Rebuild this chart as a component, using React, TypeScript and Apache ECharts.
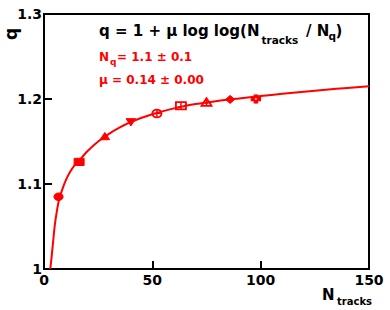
import { useEffect, useRef } from "react";
import * as echarts from "echarts";

// Fitted curve (N_tracks, q)
const curveN = [2.9, 3.5, 4.2, 5, 6, 7, 8.5, 10, 12, 14, 16, 20, 25, 30, 35, 40, 50, 60, 70, 80, 90, 100, 110, 120, 130, 140, 150];
const curveQ = [1.0, 1.014, 1.032, 1.052, 1.069, 1.082, 1.094, 1.104, 1.114, 1.1215, 1.127, 1.1385, 1.15, 1.159, 1.1665, 1.173, 1.182, 1.189, 1.194, 1.1977, 1.2007, 1.2035, 1.2061, 1.2085, 1.2108, 1.213, 1.215];

// Measured points
const pointN = [6.7, 16.2, 28.1, 40.1, 52.1, 63.2, 75.0, 85.9, 97.8];
const pointQ = [1.085, 1.126, 1.156, 1.173, 1.183, 1.192, 1.196, 1.1995, 1.2];
const pointErr = [0.002, 0.002, 0.002, 0.003, 0.004, 0.004, 0.004, 0.004, 0.005];
const markerKinds = [
  "filledCircle",
  "filledSquare",
  "filledTriUp",
  "filledTriDown",
  "openCircle",
  "openSquare",
  "openTriUp",
  "filledDiamond",
  "openCross",
];

const xMin = 0;
const xMax = 150;
const xStep = 50;
const yMin = 1.0;
const yMax = 1.3;
const yStep = 0.1;

const RED = "#ff0000";
const FONT = "DejaVu Sans";

function renderMarker(params: any, api: any) {
  const x = api.value(0);
  const y = api.value(1);
  const e = api.value(2);
  const kind = markerKinds[params.dataIndex];
  const [cx, cy] = api.coord([x, y]);
  const top = api.coord([x, y + e])[1];
  const bot = api.coord([x, y - e])[1];
  const children: any[] = [
    {
      type: "line",
      shape: { x1: cx, y1: top, x2: cx, y2: bot },
      style: { stroke: RED, lineWidth: 1.5 },
    },
  ];
  const filled = { fill: RED, stroke: RED, lineWidth: 1 };
  const open = { fill: "none", stroke: RED, lineWidth: 1.8 };
  switch (kind) {
    case "filledCircle":
      children.push({ type: "ellipse", shape: { cx, cy, rx: 4.6, ry: 3.8 }, style: filled });
      break;
    case "filledSquare":
      children.push({ type: "rect", shape: { x: cx - 5, y: cy - 3.6, width: 10, height: 7.2 }, style: filled });
      break;
    case "filledTriUp":
      children.push({
        type: "polygon",
        shape: { points: [[cx - 4.8, cy + 3.3], [cx + 4.8, cy + 3.3], [cx, cy - 4]] },
        style: filled,
      });
      break;
    case "filledTriDown":
      children.push({
        type: "polygon",
        shape: { points: [[cx - 4.8, cy - 3.3], [cx + 4.8, cy - 3.3], [cx, cy + 4]] },
        style: filled,
      });
      break;
    case "openCircle":
      children.push({ type: "ellipse", shape: { cx, cy, rx: 4.6, ry: 3.9 }, style: open });
      children.push({
        type: "line",
        shape: { x1: cx - 4.6, y1: cy, x2: cx + 4.6, y2: cy },
        style: { stroke: RED, lineWidth: 1.2 },
      });
      break;
    case "openSquare":
      children.push({ type: "rect", shape: { x: cx - 5, y: cy - 3.6, width: 10, height: 7.2 }, style: open });
      break;
    case "openTriUp":
      children.push({
        type: "polygon",
        shape: { points: [[cx - 5, cy + 3.5], [cx + 5, cy + 3.5], [cx, cy - 4.2]] },
        style: open,
      });
      children.push({ type: "circle", shape: { cx, cy: cy + 0.5, r: 1 }, style: filled });
      break;
    case "filledDiamond":
      children.push({
        type: "polygon",
        shape: { points: [[cx - 4.6, cy], [cx, cy - 4], [cx + 4.6, cy], [cx, cy + 4]] },
        style: filled,
      });
      break;
    case "openCross": {
      const a = 1.7;
      const b = 4.6;
      const h = 4;
      children.push({
        type: "polygon",
        shape: {
          points: [
            [cx - a, cy - h], [cx + a, cy - h], [cx + a, cy - a], [cx + b, cy - a],
            [cx + b, cy + a], [cx + a, cy + a], [cx + a, cy + h], [cx - a, cy + h],
            [cx - a, cy + a], [cx - b, cy + a], [cx - b, cy - a], [cx - a, cy - a],
          ],
        },
        style: { fill: RED, stroke: RED, lineWidth: 1.2 },
      });
      children.push({ type: "circle", shape: { cx, cy, r: 0.8 }, style: { fill: "#fff" } });
      break;
    }
  }
  return { type: "group", children };
}

function textEl(text: string, x: number, y: number, size: number, color: string, extra: any = {}) {
  return {
    type: "text",
    x,
    y,
    z: 100,
    ...extra,
    style: {
      text,
      fill: color,
      font: `bold ${size}px "${FONT}"`,
      textAlign: "left",
      textVerticalAlign: "middle",
      ...(extra.style || {}),
    },
  };
}

export default function App() {
  const ref = useRef<HTMLDivElement>(null);
  useEffect(() => {
    if (!ref.current) return;
    const chart = echarts.init(ref.current, undefined, { renderer: "svg" });
    const curveData = curveN.map((n, i) => [n, curveQ[i]]);
    const pointData = pointN.map((n, i) => [n, pointQ[i], pointErr[i]]);
    const axisLabelStyle = {
      color: "#000",
      fontFamily: FONT,
      fontWeight: "bold" as const,
      fontSize: 14,
    };
    chart.setOption({
      animation: false,
      backgroundColor: "#fff",
      grid: {
        left: 44,
        top: 14,
        width: 325,
        height: 255,
        show: true,
        borderColor: "#000",
        borderWidth: 2,
        backgroundColor: "transparent",
      },
      xAxis: {
        type: "value",
        min: xMin,
        max: xMax,
        interval: xStep,
        axisLine: { show: true, onZero: false, lineStyle: { color: "#000", width: 2 } },
        axisTick: { show: true, inside: true, length: 8, lineStyle: { color: "#000", width: 2 } },
        splitLine: { show: false },
        axisLabel: { ...axisLabelStyle, margin: 4 },
      },
      yAxis: {
        type: "value",
        min: yMin,
        max: yMax,
        interval: yStep,
        axisLine: { show: true, onZero: false, lineStyle: { color: "#000", width: 2 } },
        axisTick: { show: true, inside: true, length: 8, lineStyle: { color: "#000", width: 2 } },
        splitLine: { show: false },
        axisLabel: {
          ...axisLabelStyle,
          margin: 2,
          formatter: (v: number) => {
            const r = Math.round(v * 10) / 10;
            return r === 1 ? "1" : r.toFixed(1);
          },
        },
      },
      series: [
        {
          type: "line",
          data: curveData,
          smooth: 0.3,
          showSymbol: false,
          symbol: "none",
          lineStyle: { color: RED, width: 2 },
          clip: true,
          z: 2,
        },
        {
          type: "custom",
          data: pointData,
          renderItem: renderMarker,
          z: 3,
        },
      ],
      graphic: [
        textEl("q = 1 + μ log log(N", 99, 31, 15, "#000"),
        textEl("tracks", 261.5, 39.5, 10.5, "#000"),
        textEl("/ N", 306, 31, 15, "#000"),
        textEl("q", 328.5, 36, 10.5, "#000"),
        textEl(")", 335.5, 31, 15, "#000"),
        textEl("N", 99, 57, 12, RED),
        textEl("q", 110, 62, 9, RED),
        textEl("= 1.1 ± 0.1", 117, 57, 12, RED),
        textEl("μ = 0.14 ± 0.00", 99, 80, 12, RED),
        textEl("N", 322, 295, 15, "#000"),
        textEl("tracks", 337, 301.5, 10, "#000"),
        textEl("q", 11, 34, 17, "#000", {
          rotation: Math.PI / 2,
          style: { textAlign: "center", textVerticalAlign: "middle" },
        }),
      ],
    });
    return () => chart.dispose();
  }, []);
  return (
    <div
      ref={ref}
      style={{ position: "fixed", left: 0, top: 0, width: 390, height: 310, background: "#fff" }}
    />
  );
}
